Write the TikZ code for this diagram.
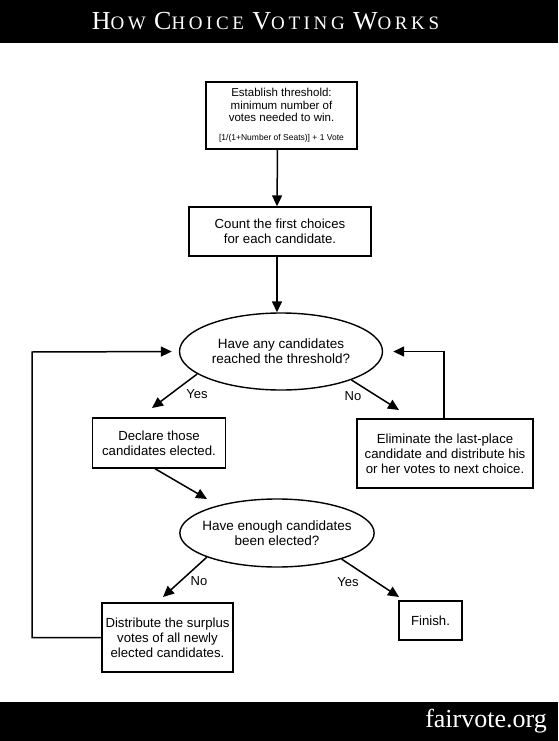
\documentclass[tikz,border=0pt]{standalone}
\usepackage{fontspec}
\setmainfont{Liberation Sans}
\newfontfamily\titlefont[LetterSpace=19]{Liberation Serif}
\newfontfamily\sitefont{Liberation Serif}
\usetikzlibrary{shapes.geometric,arrows.meta}
\newcommand\titlecap[1]{{\fontsize{26}{26}\selectfont #1}}

\tikzset{
  box/.style={draw, line width=1.4pt, align=center, inner sep=1pt, font=\fontsize{13.2}{15}\selectfont},
  choice/.style={draw, ellipse, line width=1.4pt, align=center, inner sep=0pt, font=\fontsize{13.5}{15}\selectfont},
  arr/.style={-{Triangle[length=11pt,width=10pt]}, line width=1.5pt},
  lbl/.style={font=\fontsize{13}{15}\selectfont, inner sep=0pt}
}

\begin{document}
\begin{tikzpicture}[x=1pt,y=-1pt]
  \useasboundingbox (0,0) rectangle (558,741);

  % Bars
  \fill[black] (0,0) rectangle (558,43);
  \fill[black] (0,702) rectangle (558,741);
  \node[anchor=base, text=white, inner sep=0pt] (title) at (265.5,30)
    {\titlefont\fontsize{19}{19}\selectfont \titlecap{H}OW \titlecap{C}HOICE \titlecap{V}OTING \titlecap{W}ORKS};
  \node[anchor=base east, text=white, inner sep=0pt] (site) at (547,727)
    {\sitefont\fontsize{26}{26}\selectfont fairvote.org};

  % Steps
  \node[box, font=\fontsize{11.5}{12.2}\selectfont, minimum width=151, minimum height=67] (thresh) at (281.5,115.5)
    {Establish threshold:\\ minimum number of\\ votes needed to win.\\[7pt]
     {\fontsize{8.5}{10}\selectfont [1/(1+Number of Seats)] + 1 Vote}};
  \node[box, minimum width=182, minimum height=49] (count) at (280,231.5)
    {Count the first choices\\ for each candidate.};
  \node[choice, minimum width=203, minimum height=77] (reach) at (281,351.5)
    {Have any candidates\\ reached the threshold?};
  \node[box, minimum width=133, minimum height=50] (declare) at (159,443)
    {Declare those\\ candidates elected.};
  \node[box, minimum width=176, minimum height=69] (elim) at (445,453.5)
    {Eliminate the last-place\\ candidate and distribute his\\ or her votes to next choice.};
  \node[choice, inner xsep=-6pt, minimum width=194, minimum height=68] (enough) at (277,533)
    {Have enough candidates\\ been elected?};
  \node[box, minimum width=131, minimum height=69] (surplus) at (167.5,637.5)
    {Distribute the surplus\\ votes of all newly\\ elected candidates.};
  \node[box, minimum width=63, minimum height=39] (finish) at (430.5,620.5) {Finish.};

  % Free ends of the arrows
  \coordinate (yes1) at (152,408);
  \coordinate (no1) at (399,410);
  \coordinate (into2) at (207,499);
  \coordinate (no2) at (163,597);
  \coordinate (yes2) at (399,597);
  \coordinate (loop) at (32,352);

  % Connectors
  \draw[arr] ([xshift=-4pt]thresh.south) -- ([xshift=-3pt]count.north);
  \draw[arr] ([xshift=-3pt]count.south) -- ([xshift=-3pt]count.south |- reach.north);
  \draw[arr] (reach.195) -- (yes1);
  \draw[arr] (reach.338) -- (no1);
  \draw[arr, shorten >=10pt] ([xshift=-1pt]elim.north) |- (reach.east);
  \draw[arr] ([xshift=-4pt]declare.south) -- (into2);
  \draw[arr] (enough.199) -- (no2);
  \draw[arr] (enough.338) -- (yes2);
  \draw[arr, shorten >=7pt] (surplus.west) -| (loop) -- (reach.west);

  % Labels
  \node[lbl] (yes1lbl) at (197,394) {Yes};
  \node[lbl] (no1lbl) at (353,396) {No};
  \node[lbl] (no2lbl) at (199,581) {No};
  \node[lbl] (yes2lbl) at (348,582) {Yes};
\end{tikzpicture}
\end{document}
